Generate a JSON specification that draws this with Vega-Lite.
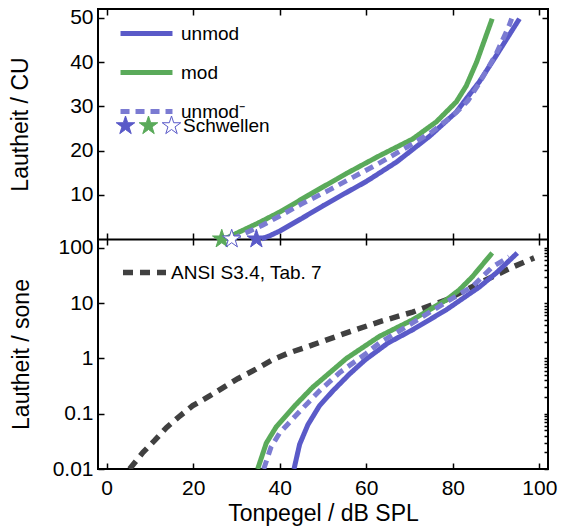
{
  "$schema": "https://vega.github.io/schema/vega-lite/v6.json",
  "autosize": {"type": "none"},
  "width": 450,
  "height": 460,
  "padding": {"left": 98, "top": 9, "right": 14, "bottom": 59},
  "background": "white",
  "config": {
    "view": {"stroke": "black", "strokeWidth": 2},
    "font": "Liberation Sans",
    "axis": {
      "grid": false,
      "domain": false,
      "tickColor": "black",
      "tickWidth": 1.5,
      "labelFont": "Liberation Sans",
      "labelFontSize": 21,
      "labelColor": "black",
      "titleFont": "Liberation Sans",
      "titleFontSize": 23,
      "titleFontWeight": "normal",
      "titleColor": "black",
      "labelOverlap": false,
      "labelFlush": false
    },
    "legend": {
      "labelFont": "Liberation Sans",
      "labelFontSize": 19,
      "labelColor": "black"
    }
  },
  "datasets": {
    "cu": [
      {"x": 35.8, "y": 0, "series": "unmod"},
      {"x": 37.6, "y": 0.7, "series": "unmod"},
      {"x": 40, "y": 1.8, "series": "unmod"},
      {"x": 45, "y": 4.6, "series": "unmod"},
      {"x": 50, "y": 7.5, "series": "unmod"},
      {"x": 55.4, "y": 10.5, "series": "unmod"},
      {"x": 60, "y": 13, "series": "unmod"},
      {"x": 67, "y": 17.4, "series": "unmod"},
      {"x": 74.6, "y": 23.2, "series": "unmod"},
      {"x": 80.8, "y": 28.7, "series": "unmod"},
      {"x": 83.1, "y": 31.7, "series": "unmod"},
      {"x": 86.1, "y": 35.5, "series": "unmod"},
      {"x": 90, "y": 41.4, "series": "unmod"},
      {"x": 95.4, "y": 49.8, "series": "unmod"},
      {"x": 27.3, "y": 0, "series": "mod"},
      {"x": 29.6, "y": 1.1, "series": "mod"},
      {"x": 35, "y": 3.6, "series": "mod"},
      {"x": 40, "y": 6.1, "series": "mod"},
      {"x": 47, "y": 10.1, "series": "mod"},
      {"x": 55.4, "y": 14.8, "series": "mod"},
      {"x": 63, "y": 18.8, "series": "mod"},
      {"x": 70.7, "y": 22.6, "series": "mod"},
      {"x": 76.2, "y": 26.5, "series": "mod"},
      {"x": 80.8, "y": 31, "series": "mod"},
      {"x": 83.1, "y": 34.6, "series": "mod"},
      {"x": 85.5, "y": 40, "series": "mod"},
      {"x": 89.1, "y": 49.8, "series": "mod"},
      {"x": 28.9, "y": 0, "series": "unmod⁻"},
      {"x": 32, "y": 1.3, "series": "unmod⁻"},
      {"x": 36, "y": 3.1, "series": "unmod⁻"},
      {"x": 40, "y": 5.2, "series": "unmod⁻"},
      {"x": 45, "y": 7.9, "series": "unmod⁻"},
      {"x": 51.5, "y": 11.1, "series": "unmod⁻"},
      {"x": 57, "y": 14, "series": "unmod⁻"},
      {"x": 62.4, "y": 16.8, "series": "unmod⁻"},
      {"x": 70.7, "y": 21.5, "series": "unmod⁻"},
      {"x": 75.3, "y": 24.3, "series": "unmod⁻"},
      {"x": 80.8, "y": 28.6, "series": "unmod⁻"},
      {"x": 83.5, "y": 31.3, "series": "unmod⁻"},
      {"x": 86.1, "y": 35.2, "series": "unmod⁻"},
      {"x": 90, "y": 41.8, "series": "unmod⁻"},
      {"x": 93, "y": 48.2, "series": "unmod⁻"},
      {"x": 93.6, "y": 49.8, "series": "unmod⁻"}
    ],
    "thr": [
      {"x": 34.6, "y": 0, "thr": "a"},
      {"x": 26.6, "y": 0, "thr": "b"},
      {"x": 28.9, "y": 0, "thr": "c"}
    ],
    "sone": [
      {"x": 43.3, "y": 0.01, "series": "unmod"},
      {"x": 44.6, "y": 0.028, "series": "unmod"},
      {"x": 46.5, "y": 0.063, "series": "unmod"},
      {"x": 49.2, "y": 0.14, "series": "unmod"},
      {"x": 52.3, "y": 0.26, "series": "unmod"},
      {"x": 56.1, "y": 0.52, "series": "unmod"},
      {"x": 59.8, "y": 0.95, "series": "unmod"},
      {"x": 65, "y": 1.9, "series": "unmod"},
      {"x": 70.7, "y": 3.3, "series": "unmod"},
      {"x": 78.5, "y": 7.6, "series": "unmod"},
      {"x": 86.1, "y": 19.5, "series": "unmod"},
      {"x": 90, "y": 35, "series": "unmod"},
      {"x": 94.9, "y": 81, "series": "unmod"},
      {"x": 34.9, "y": 0.01, "series": "mod"},
      {"x": 36.9, "y": 0.0295, "series": "mod"},
      {"x": 39.2, "y": 0.058, "series": "mod"},
      {"x": 43.5, "y": 0.14, "series": "mod"},
      {"x": 47.6, "y": 0.3, "series": "mod"},
      {"x": 55.4, "y": 1.0, "series": "mod"},
      {"x": 63, "y": 2.5, "series": "mod"},
      {"x": 70.7, "y": 5.0, "series": "mod"},
      {"x": 78.5, "y": 11.5, "series": "mod"},
      {"x": 81.5, "y": 17.4, "series": "mod"},
      {"x": 84.5, "y": 30, "series": "mod"},
      {"x": 89.1, "y": 81, "series": "mod"},
      {"x": 36.3, "y": 0.01, "series": "unmod⁻"},
      {"x": 38, "y": 0.025, "series": "unmod⁻"},
      {"x": 40, "y": 0.045, "series": "unmod⁻"},
      {"x": 44.6, "y": 0.11, "series": "unmod⁻"},
      {"x": 49.2, "y": 0.26, "series": "unmod⁻"},
      {"x": 53.9, "y": 0.56, "series": "unmod⁻"},
      {"x": 59.8, "y": 1.2, "series": "unmod⁻"},
      {"x": 63, "y": 1.9, "series": "unmod⁻"},
      {"x": 70.7, "y": 4.4, "series": "unmod⁻"},
      {"x": 78.5, "y": 10.5, "series": "unmod⁻"},
      {"x": 84.5, "y": 20, "series": "unmod⁻"},
      {"x": 89.1, "y": 45, "series": "unmod⁻"},
      {"x": 93, "y": 69, "series": "unmod⁻"}
    ],
    "ansi": [
      {"x": 5.3, "y": 0.01, "series": "ANSI S3.4, Tab. 7"},
      {"x": 8.4, "y": 0.02, "series": "ANSI S3.4, Tab. 7"},
      {"x": 11.1, "y": 0.033, "series": "ANSI S3.4, Tab. 7"},
      {"x": 13.8, "y": 0.056, "series": "ANSI S3.4, Tab. 7"},
      {"x": 16.9, "y": 0.091, "series": "ANSI S3.4, Tab. 7"},
      {"x": 19.9, "y": 0.14, "series": "ANSI S3.4, Tab. 7"},
      {"x": 23.8, "y": 0.21, "series": "ANSI S3.4, Tab. 7"},
      {"x": 27.3, "y": 0.31, "series": "ANSI S3.4, Tab. 7"},
      {"x": 30.3, "y": 0.43, "series": "ANSI S3.4, Tab. 7"},
      {"x": 34.5, "y": 0.64, "series": "ANSI S3.4, Tab. 7"},
      {"x": 38.3, "y": 0.94, "series": "ANSI S3.4, Tab. 7"},
      {"x": 42, "y": 1.25, "series": "ANSI S3.4, Tab. 7"},
      {"x": 47.6, "y": 1.76, "series": "ANSI S3.4, Tab. 7"},
      {"x": 55.4, "y": 2.9, "series": "ANSI S3.4, Tab. 7"},
      {"x": 63, "y": 4.6, "series": "ANSI S3.4, Tab. 7"},
      {"x": 70.7, "y": 6.9, "series": "ANSI S3.4, Tab. 7"},
      {"x": 78.5, "y": 11.5, "series": "ANSI S3.4, Tab. 7"},
      {"x": 86.1, "y": 23, "series": "ANSI S3.4, Tab. 7"},
      {"x": 93.8, "y": 45, "series": "ANSI S3.4, Tab. 7"},
      {"x": 98.8, "y": 66, "series": "ANSI S3.4, Tab. 7"}
    ]
  },
  "layer": [
    {
      "data": {"name": "ansi"},
      "mark": {"type": "line", "strokeWidth": 5.5, "clip": true},
      "encoding": {
        "x": {"field": "x", "type": "quantitative", "scale": {"domain": [-2, 102], "nice": false, "zero": false},
              "axis": {"orient": "top", "offset": -230, "values": [0, 20, 40, 60, 80, 100], "labels": false, "title": null, "tickSize": -6,
                       "domain": true, "domainColor": "black", "domainWidth": 2}},
        "y": {"field": "y", "type": "quantitative", "scale": {"type": "log", "domain": [0.01, 145], "nice": false, "range": [460, 230]},
              "axis": {"orient": "right", "labels": false, "title": null, "tickSize": -4,
                       "values": [0.01,0.02,0.03,0.04,0.05,0.06,0.07,0.08,0.09,0.1,0.2,0.3,0.4,0.5,0.6,0.7,0.8,0.9,1,2,3,4,5,6,7,8,9,10,20,30,40,50,60,70,80,90,100]}},
        "color": {"field": "series", "type": "nominal",
                  "scale": {"domain": ["ANSI S3.4, Tab. 7"], "range": ["#404040"]},
                  "legend": {"orient": "none", "legendX": 22, "legendY": 239, "title": null, "symbolType": "stroke", "symbolStrokeWidth": 5.5, "symbolSize": 1850, "symbolDash": [10, 7], "labelOffset": 2, "padding": 0}},
        "strokeDash": {"value": [10, 7]},
        "order": {"field": "x", "type": "quantitative"}
      }
    },
    {
      "data": {"name": "sone"},
      "mark": {"type": "line", "strokeWidth": 5, "clip": true},
      "encoding": {
        "x": {"field": "x", "type": "quantitative",
              "axis": {"orient": "bottom", "values": [0, 20, 40, 60, 80, 100], "tickSize": -6, "labelPadding": 14, "title": "Tonpegel / dB SPL", "titlePadding": 4}},
        "y": {"field": "y", "type": "quantitative", "scale": {"type": "log", "domain": [0.01, 145], "nice": false, "range": [460, 230]},
              "axis": {"orient": "left", "title": "Lautheit / sone", "titlePadding": 19, "labelPadding": 11, "format": "~g",
                       "values": [0.01, 0.1, 1, 10, 100], "tickSize": -6}},
        "color": {"field": "series", "type": "nominal",
                  "scale": {"domain": ["unmod", "mod", "unmod⁻"], "range": ["#5a5ac8", "#5aaa5a", "#7b7bd2"]}, "legend": null},
        "strokeDash": {"field": "series", "type": "nominal",
                       "scale": {"domain": ["unmod", "mod", "unmod⁻"], "range": [[1, 0], [1, 0], [9, 6]]}, "legend": null},
        "order": {"field": "x", "type": "quantitative"}
      }
    },
    {
      "data": {"name": "cu"},
      "mark": {"type": "line", "strokeWidth": 5, "clip": true},
      "encoding": {
        "x": {"field": "x", "type": "quantitative",
              "axis": {"orient": "bottom", "offset": -230, "values": [0, 20, 40, 60, 80, 100], "labels": false, "title": null, "tickSize": -6}},
        "y": {"field": "y", "type": "quantitative", "scale": {"domain": [0, 52], "nice": false, "range": [230, 0]},
              "axis": {"orient": "left", "values": [10, 20, 30, 40, 50], "tickSize": -6, "labelPadding": 11, "title": "Lautheit / CU", "titlePadding": 37}},
        "color": {"field": "series", "type": "nominal",
                  "scale": {"domain": ["unmod", "mod", "unmod⁻"], "range": ["#5a5ac8", "#5aaa5a", "#7b7bd2"]},
                  "legend": {"orient": "none", "legendX": 20, "legendY": -4, "title": null, "symbolType": "stroke", "symbolStrokeWidth": 5, "symbolSize": 2700, "labelOffset": 6, "rowPadding": -21, "padding": 0}},
        "strokeDash": {"field": "series", "type": "nominal",
                       "scale": {"domain": ["unmod", "mod", "unmod⁻"], "range": [[1, 0], [1, 0], [9, 6]]},
                       "legend": {"orient": "none", "legendX": 20, "legendY": -4, "title": null, "symbolType": "stroke", "symbolStrokeWidth": 5, "symbolSize": 2700, "labelOffset": 6, "rowPadding": -21, "padding": 0}},
        "order": {"field": "x", "type": "quantitative"}
      }
    },
    {
      "data": {"name": "thr"},
      "mark": {"type": "point", "shape": "M0,-1L0.2245,-0.309L0.951,-0.309L0.363,0.118L0.588,0.809L0,0.382L-0.588,0.809L-0.363,0.118L-0.951,-0.309L-0.2245,-0.309Z", "filled": true, "size": 380, "strokeWidth": 1, "opacity": 1, "clip": false},
      "encoding": {
        "x": {"field": "x", "type": "quantitative",
              "axis": {"orient": "top", "values": [0, 20, 40, 60, 80, 100], "labels": false, "title": null, "tickSize": -6}},
        "y": {"field": "y", "type": "quantitative", "scale": {"domain": [0, 52], "nice": false, "range": [230, 0]},
              "axis": {"orient": "right", "values": [10, 20, 30, 40, 50], "labels": false, "title": null, "tickSize": -6}},
        "fill": {"field": "thr", "type": "nominal",
                 "scale": {"domain": ["a", "b", "c"], "range": ["#5a5ac8", "#5aaa5a", "white"]},
                 "legend": {"orient": "none", "legendX": 17, "legendY": 106, "title": null, "symbolType": "M0,-1L0.2245,-0.309L0.951,-0.309L0.363,0.118L0.588,0.809L0,0.382L-0.588,0.809L-0.363,0.118L-0.951,-0.309L-0.2245,-0.309Z", "symbolSize": 380, "symbolStrokeWidth": 1, "direction": "horizontal", "columns": 3, "columnPadding": 0, "labelOffset": 1, "padding": 0, "labelExpr": "datum.value == 'c' ? 'Schwellen' : ''"}},
        "stroke": {"field": "thr", "type": "nominal",
                   "scale": {"domain": ["a", "b", "c"], "range": ["#5a5ac8", "#5aaa5a", "#5a5ac8"]},
                   "legend": {"orient": "none", "legendX": 17, "legendY": 106, "title": null, "symbolType": "M0,-1L0.2245,-0.309L0.951,-0.309L0.363,0.118L0.588,0.809L0,0.382L-0.588,0.809L-0.363,0.118L-0.951,-0.309L-0.2245,-0.309Z", "symbolSize": 380, "symbolStrokeWidth": 1, "direction": "horizontal", "columns": 3, "columnPadding": 0, "labelOffset": 1, "padding": 0, "labelExpr": "datum.value == 'c' ? 'Schwellen' : ''"}}
      }
    }
  ],
  "resolve": {
    "scale": {"y": "independent", "color": "independent", "strokeDash": "independent", "fill": "independent", "stroke": "independent"},
    "axis": {"x": "independent", "y": "independent"},
    "legend": {"color": "independent", "strokeDash": "independent", "fill": "independent", "stroke": "independent"}
  }
}
